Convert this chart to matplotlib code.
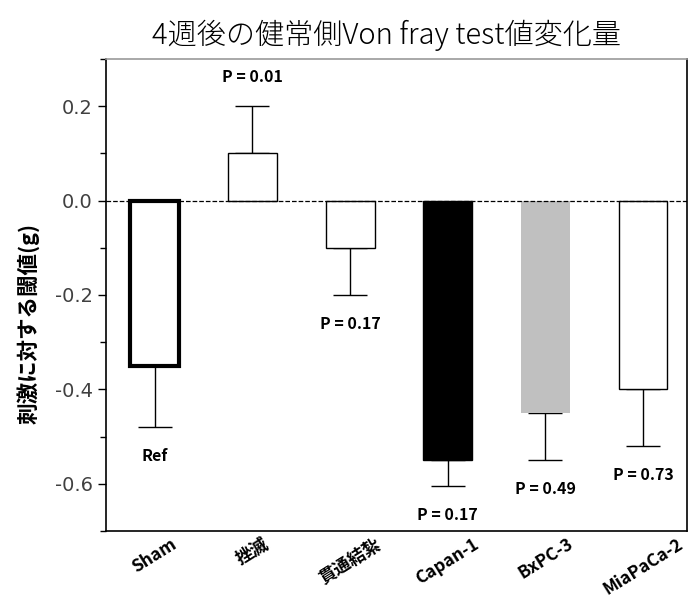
import matplotlib
matplotlib.use("Agg")
import matplotlib.pyplot as plt
import numpy as np
from matplotlib.ticker import MultipleLocator

plt.rcParams['font.family'] = ['Noto Sans CJK JP', 'DejaVu Sans']
plt.rcParams['axes.unicode_minus'] = False

categories = ['Sham', '挫滅', '貫通結紮', 'Capan-1', 'BxPC-3', 'MiaPaCa-2']
means = [-0.35, 0.10, -0.10, -0.55, -0.45, -0.40]
errors = [0.13, 0.10, 0.10, 0.055, 0.10, 0.12]
p_labels = ['Ref', 'P = 0.01', 'P = 0.17', 'P = 0.17', 'P = 0.49', 'P = 0.73']
fill_colors = ['white', 'white', 'white', 'black', '#c0c0c0', 'white']
edge_widths = [3.0, 1.0, 1.0, 1.0, 0.0, 1.0]

fig = plt.figure(figsize=(6.98, 6.03), dpi=100)
ax = fig.add_axes([106 / 698, 1 - 531 / 603, 581 / 698, 472 / 603])

x = np.arange(len(categories))
for i in range(len(categories)):
    ax.bar(x[i], means[i], width=0.5, color=fill_colors[i],
           edgecolor='black', linewidth=edge_widths[i], zorder=2)
    # one-sided error bar away from zero
    sign = 1 if means[i] > 0 else -1
    lo = [0] if sign > 0 else [errors[i]]
    hi = [errors[i]] if sign > 0 else [0]
    ax.errorbar(x[i], means[i], yerr=[lo, hi], fmt='none', ecolor='black',
                elinewidth=1, capsize=12, capthick=1, zorder=1)
    end = means[i] + sign * errors[i]
    ax.annotate(p_labels[i], (x[i], end), xytext=(0, 21 * sign),
                textcoords='offset points', ha='center', va='center',
                fontsize=11.5, fontweight='bold')

ax.axhline(0, color='black', linestyle='--', linewidth=0.9, zorder=3)

ax.set_xlim(-0.5, 5.45)
ax.set_ylim(-0.7, 0.3)
ax.yaxis.set_minor_locator(MultipleLocator(0.1))
ax.set_yticks([-0.6, -0.4, -0.2, 0.0, 0.2])
ax.set_yticklabels(['-0.6', '-0.4', '-0.2', '0.0', '0.2'],
                   family='DejaVu Sans', fontsize=14, color='#404040')
ax.tick_params(axis='y', which='major', length=6, width=1, direction='out')
ax.tick_params(axis='y', which='minor', length=4, width=1, direction='out')
ax.tick_params(axis='x', length=0, pad=3)

ax.set_xticks(x)
ax.set_xticklabels(categories, rotation=32, ha='center', va='top',
                   fontsize=12.5, fontweight='bold')

for side in ['left', 'right', 'bottom']:
    ax.spines[side].set_color('black')
    ax.spines[side].set_linewidth(1.2)
ax.spines['top'].set_color('#999999')
ax.spines['top'].set_linewidth(1.2)

ax.set_ylabel('刺激に対する閾値(g)', fontsize=15.5, fontweight='bold')
ax.yaxis.set_label_coords(-0.115, 0.44)
fig.text(386 / 698, 1 - 35 / 603, '4週後の健常側Von fray test値変化量',
         ha='center', va='center', fontsize=21, fontweight='light')

fig.savefig('out.png', dpi=100, facecolor='white')
